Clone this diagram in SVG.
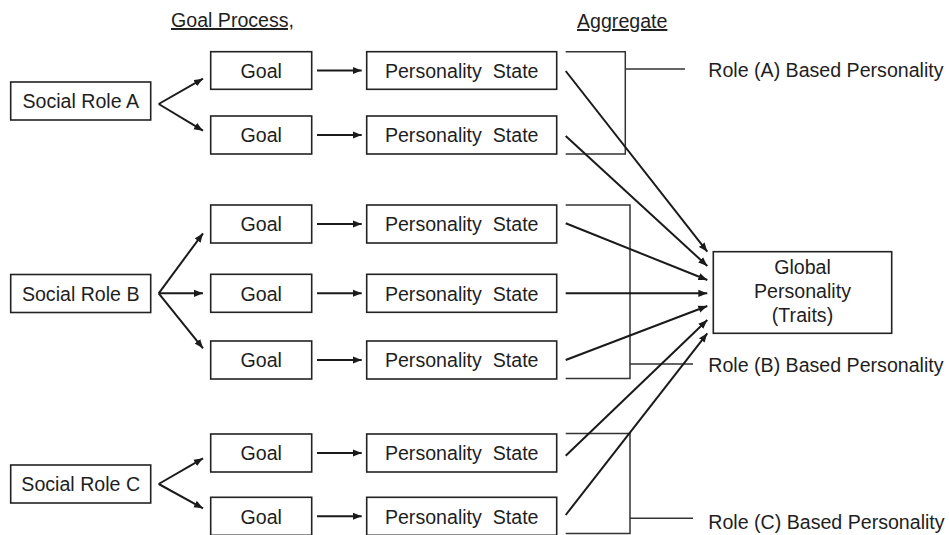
<svg xmlns="http://www.w3.org/2000/svg" width="949" height="535" viewBox="0 0 949 535">
  <style>
    .box { fill: #fff; stroke: #222; stroke-width: 1.6; }
    .lbl { font-family: "Liberation Sans", Arial, sans-serif; font-size: 19.6px; fill: #1e1e1e; }
    .mid { text-anchor: middle; }
    .head { text-decoration: underline; }
    .edge { fill: none; stroke: #1a1a1a; stroke-width: 2; }
    .arr { marker-end: url(#tip); }
    .brk { fill: none; stroke: #333; stroke-width: 1.5; }
  </style>
  <defs>
    <marker id="tip" viewBox="0 0 10 8" refX="10" refY="4" markerWidth="9" markerHeight="8" markerUnits="userSpaceOnUse" orient="auto">
      <path d="M0,0 L10,4 L0,8 z" fill="#1a1a1a"/>
    </marker>
  </defs>

  <!-- column headings -->
  <text class="lbl head" x="171" y="27">Goal Process,</text>
  <text class="lbl head" x="577" y="28">Aggregate</text>

  <!-- social roles -->
  <g id="role-a"><rect class="box" x="10.7" y="82" width="140" height="38"/><text class="lbl mid" x="80.7" y="108">Social Role A</text></g>
  <g id="role-b"><rect class="box" x="10.7" y="274.5" width="140" height="38"/><text class="lbl mid" x="80.7" y="300.5">Social Role B</text></g>
  <g id="role-c"><rect class="box" x="10.7" y="465" width="140" height="38"/><text class="lbl mid" x="80.7" y="491">Social Role C</text></g>

  <!-- goals -->
  <g id="goal-a1"><rect class="box" x="210.7" y="51.7" width="101" height="37.6"/><text class="lbl mid" x="261.2" y="78">Goal</text></g>
  <g id="goal-a2"><rect class="box" x="210.7" y="116" width="101" height="38"/><text class="lbl mid" x="261.2" y="142.3">Goal</text></g>
  <g id="goal-b1"><rect class="box" x="210.7" y="205" width="101" height="38"/><text class="lbl mid" x="261.2" y="231.3">Goal</text></g>
  <g id="goal-b2"><rect class="box" x="210.7" y="274.3" width="101" height="38"/><text class="lbl mid" x="261.2" y="300.6">Goal</text></g>
  <g id="goal-b3"><rect class="box" x="210.7" y="341" width="101" height="38"/><text class="lbl mid" x="261.2" y="367.3">Goal</text></g>
  <g id="goal-c1"><rect class="box" x="210.7" y="434" width="101" height="38"/><text class="lbl mid" x="261.2" y="460.3">Goal</text></g>
  <g id="goal-c2"><rect class="box" x="210.7" y="497.3" width="101" height="38"/><text class="lbl mid" x="261.2" y="523.6">Goal</text></g>

  <!-- personality states -->
  <g id="state-a1"><rect class="box" x="366.7" y="51.7" width="190" height="37.6"/><text class="lbl mid" xml:space="preserve" x="461.7" y="78">Personality  State</text></g>
  <g id="state-a2"><rect class="box" x="366.7" y="116" width="190" height="38"/><text class="lbl mid" xml:space="preserve" x="461.7" y="142.3">Personality  State</text></g>
  <g id="state-b1"><rect class="box" x="366.7" y="205" width="190" height="38"/><text class="lbl mid" xml:space="preserve" x="461.7" y="231.3">Personality  State</text></g>
  <g id="state-b2"><rect class="box" x="366.7" y="274.3" width="190" height="38"/><text class="lbl mid" xml:space="preserve" x="461.7" y="300.6">Personality  State</text></g>
  <g id="state-b3"><rect class="box" x="366.7" y="341" width="190" height="38"/><text class="lbl mid" xml:space="preserve" x="461.7" y="367.3">Personality  State</text></g>
  <g id="state-c1"><rect class="box" x="366.7" y="434" width="190" height="38"/><text class="lbl mid" xml:space="preserve" x="461.7" y="460.3">Personality  State</text></g>
  <g id="state-c2"><rect class="box" x="366.7" y="497.3" width="190" height="38"/><text class="lbl mid" xml:space="preserve" x="461.7" y="523.6">Personality  State</text></g>

  <!-- global outcome -->
  <g id="global">
    <rect class="box" x="713.3" y="251.7" width="178.4" height="81.6"/>
    <text class="lbl mid" x="802.5" y="273.5">Global</text>
    <text class="lbl mid" x="802.5" y="298.3">Personality</text>
    <text class="lbl mid" x="802.5" y="322">(Traits)</text>
  </g>

  <!-- role-based aggregates -->
  <g id="aggregate-a">
    <path class="brk" d="M565.7,51.7 H625.3 V154 H565.7 M625.3,69 H685"/>
    <text class="lbl" x="708.3" y="77.3">Role (A) Based Personality</text>
  </g>
  <g id="aggregate-b">
    <path class="brk" d="M565.7,205 H630 V378.5 H565.7 M630,364 H693"/>
    <text class="lbl" x="708.3" y="371.5">Role (B) Based Personality</text>
  </g>
  <g id="aggregate-c">
    <path class="brk" d="M565.7,433.5 H630 V533.5 H565.7 M630,518.3 H693"/>
    <text class="lbl" x="708.3" y="528.8">Role (C) Based Personality</text>
  </g>

  <!-- connectors -->
  <g id="connectors">
    <!-- role to goals -->
    <path class="edge arr" d="M158.7,104 L203,78.7"/>
    <path class="edge arr" d="M158.7,104 L203,130.7"/>
    <path class="edge arr" d="M158.7,293.3 L203,233.3"/>
    <path class="edge arr" d="M158.7,293.3 L203,293.3"/>
    <path class="edge arr" d="M158.7,293.3 L203,348.3"/>
    <path class="edge arr" d="M158.7,484 L203,458.3"/>
    <path class="edge arr" d="M158.7,484 L203,508.3"/>
    <!-- goals to states -->
    <path class="edge arr" d="M317,70.5 L361.7,70.5"/>
    <path class="edge arr" d="M317,135 L361.7,135"/>
    <path class="edge arr" d="M317,224 L361.7,224"/>
    <path class="edge arr" d="M317,293.3 L361.7,293.3"/>
    <path class="edge arr" d="M317,360 L361.7,360"/>
    <path class="edge arr" d="M317,453 L361.7,453"/>
    <path class="edge arr" d="M317,516.3 L361.7,516.3"/>
    <!-- states to global -->
    <path class="edge arr" d="M565.7,71 L707.3,251.7"/>
    <path class="edge arr" d="M565.7,136 L707.3,266"/>
    <path class="edge arr" d="M565.7,223.3 L707.3,280"/>
    <path class="edge arr" d="M565.7,293.3 L707.3,293.3"/>
    <path class="edge arr" d="M565.7,360 L707.3,306"/>
    <path class="edge arr" d="M565.7,455.7 L707.3,320"/>
    <path class="edge arr" d="M565.7,515 L707.3,333.3"/>
  </g>
</svg>
